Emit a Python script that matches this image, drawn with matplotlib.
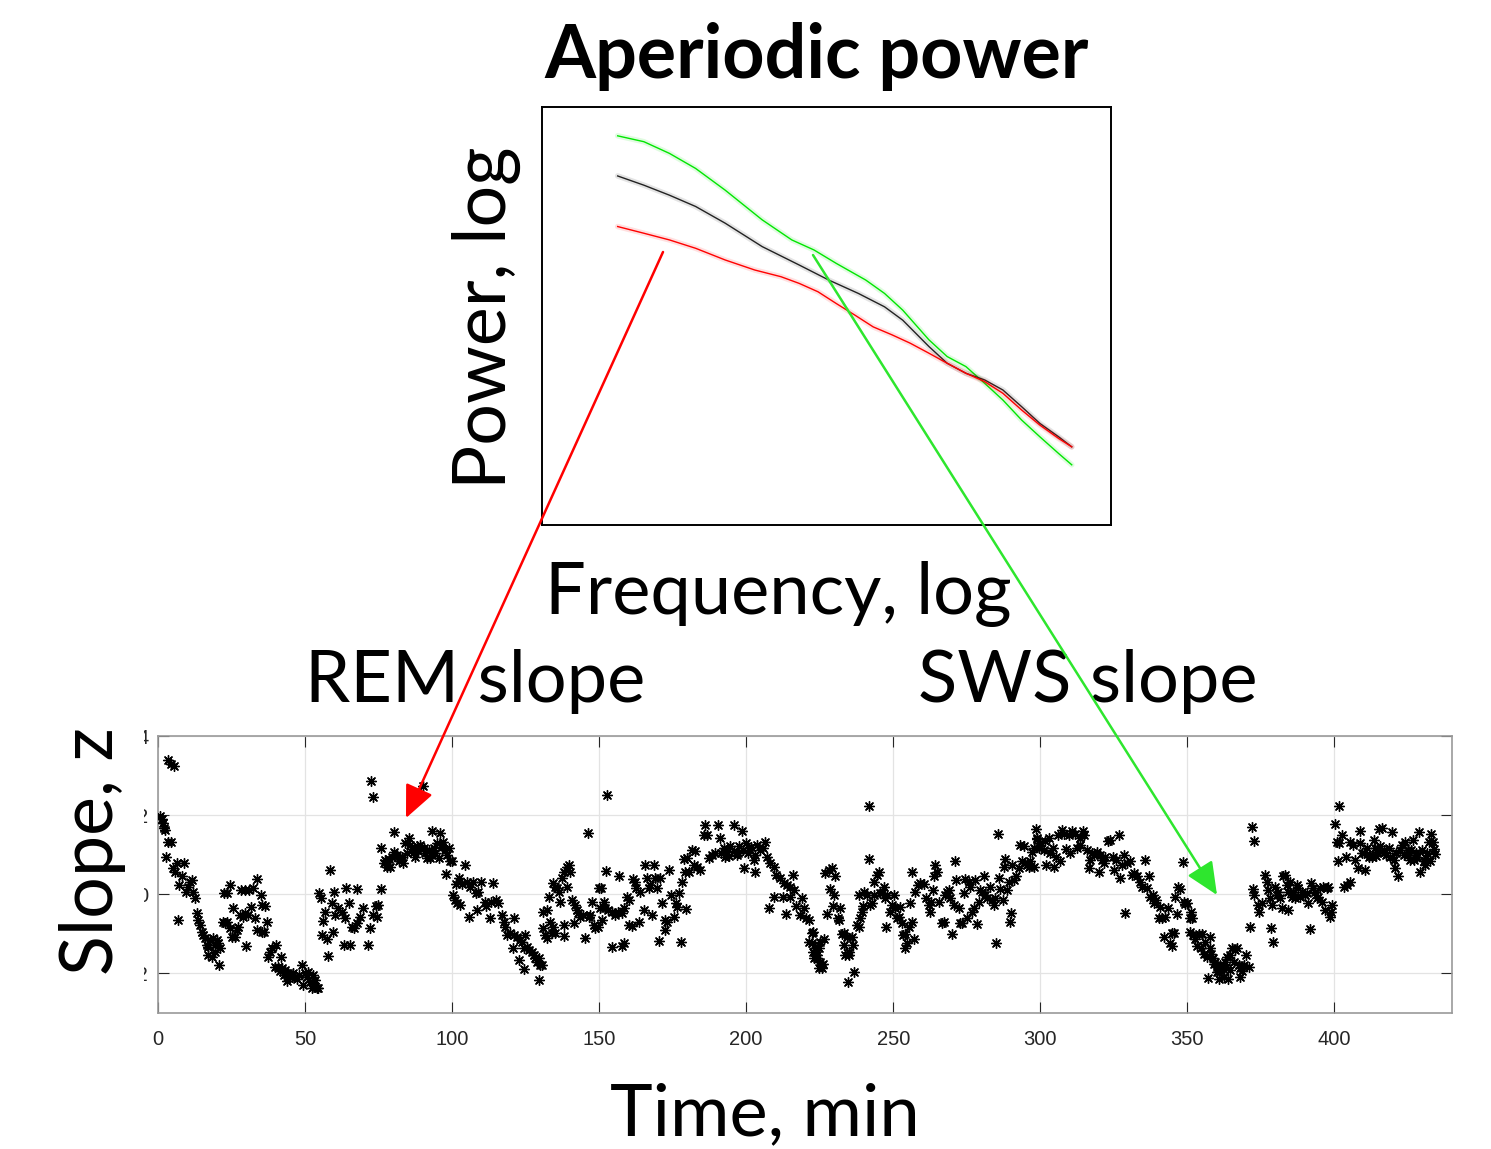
import numpy as np
import matplotlib.pyplot as plt
from matplotlib.patches import Rectangle, FancyArrowPatch

# ---- top panel: aperiodic power spectra (normalised log-freq, log-power) ----
f_sws = [0.133, 0.179, 0.224, 0.270, 0.322, 0.387, 0.439, 0.478, 0.517, 0.569, 0.602, 0.634, 0.680, 0.712,
         0.745, 0.778, 0.810, 0.843, 0.875, 0.908, 0.931]
p_sws = [0.931, 0.917, 0.889, 0.853, 0.801, 0.730, 0.682, 0.658, 0.626, 0.586, 0.554, 0.514, 0.443, 0.403,
         0.379, 0.339, 0.299, 0.251, 0.211, 0.171, 0.144]
f_all = [0.133, 0.179, 0.224, 0.270, 0.322, 0.387, 0.452, 0.504, 0.556, 0.602, 0.634, 0.680, 0.712, 0.745,
         0.778, 0.810, 0.843, 0.875, 0.908, 0.931]
p_all = [0.835, 0.813, 0.789, 0.762, 0.722, 0.666, 0.622, 0.586, 0.554, 0.522, 0.490, 0.427, 0.387, 0.363,
         0.347, 0.323, 0.283, 0.243, 0.211, 0.187]
f_rem = [0.133, 0.179, 0.224, 0.270, 0.322, 0.374, 0.420, 0.452, 0.485, 0.517, 0.550, 0.582, 0.615, 0.647,
         0.680, 0.712, 0.745, 0.778, 0.810, 0.843, 0.875, 0.908, 0.931]
p_rem = [0.714, 0.698, 0.682, 0.662, 0.634, 0.610, 0.594, 0.578, 0.558, 0.530, 0.502, 0.474, 0.455, 0.435,
         0.411, 0.387, 0.363, 0.343, 0.315, 0.275, 0.239, 0.207, 0.187]

# ---- bottom panel: slope (z) over time (min) ----
seg1 = [(0.7, 1.97), (1.2, 1.90), (1.6, 1.80), (2.0, 1.67), (2.4, 1.63), (3.5, 3.40), (4.3, 3.30), (5.4, 3.23),
        (3.5, 1.33), (4.3, 1.33), (2.7, 0.93), (6.3, 0.78), (8.8, 0.78), (5.0, 0.66), (5.8, 0.57), (8.0, 0.45),
        (10.9, 0.32), (11.5, 0.36), (7.3, 0.24), (9.5, 0.07), (10.3, 0.19), (12.0, 0.07), (12.6, -0.10), (6.9, -0.65),
        (13.2, -0.48), (13.7, -0.65), (14.3, -0.78), (14.9, -0.95), (15.4, -1.03), (16.0, -1.11), (16.6, -1.28),
        (17.1, -1.32), (17.7, -1.16), (18.8, -1.11), (19.4, -1.28), (20.0, -1.16), (20.5, -1.24), (21.1, -1.37),
        (17.1, -1.54), (18.3, -1.58), (19.4, -1.45), (20.9, -1.79),
        (22.4, 0.03), (23.6, 0.03), (24.5, 0.24), (25.4, -0.34), (22.0, -0.69), (22.8, -0.73), (23.6, -0.69),
        (24.5, -0.86), (25.0, -1.07), (26.2, -1.07), (27.0, -0.90), (27.3, -0.82),
        (28.1, 0.11), (29.6, 0.11), (31.1, 0.11), (32.4, 0.15), (33.6, 0.39), (35.0, -0.02), (35.3, -0.27),
        (36.4, -0.29), (27.9, -0.52), (29.0, -0.57), (29.6, -0.48), (30.7, -0.52), (31.5, -0.31), (33.0, -0.61),
        (33.8, -0.90), (35.3, -0.96), (36.1, -0.96), (37.0, -0.71), (29.9, -1.30),
        (37.5, -1.58), (38.1, -1.45), (38.7, -1.37), (40.1, -1.27), (41.7, -1.58),
        (39.8, -1.83), (40.9, -1.83), (42.1, -1.87), (43.2, -1.92), (43.8, -2.19), (44.9, -2.08), (46.0, -2.00),
        (47.2, -2.13), (48.9, -1.79), (50.0, -2.00), (51.1, -1.96), (51.7, -2.21), (52.8, -2.04), (53.4, -2.17),
        (54.0, -2.38), (52.3, -2.38), (54.5, -2.38), (49.4, -2.28), (41.5, -1.95), (42.7, -2.05), (44.3, -1.98),
        (45.5, -2.10), (47.8, -2.05), (50.6, -2.10), (53.0, -2.25),
        (54.9, 0.03), (55.3, -0.10), (58.5, 0.62), (59.9, 0.05), (63.9, 0.17), (67.6, 0.14),
        (56.8, -0.44), (56.2, -0.68), (59.1, -0.23), (60.2, -0.52), (61.3, -0.35), (62.5, -0.44), (63.6, -0.59),
        (65.0, -0.23), (65.9, -0.82), (66.7, -0.86), (67.6, -0.73), (68.7, -0.57), (69.8, -0.35), (72.1, -0.86),
        (73.2, -0.52), (74.1, -0.29), (55.7, -1.03), (57.4, -1.13), (59.4, -0.96), (57.9, -1.55), (63.4, -1.27),
        (65.3, -1.27), (71.5, -1.27), (72.3, 2.87), (73.0, 2.45)]

seg2 = [(75.9, 1.16), (75.9, 0.13), (74.9, -0.27), (74.4, -0.57), (80.3, 1.57), (90.0, 2.73),
        (76.7, 0.78), (77.2, 0.87), (78.4, 0.89), (78.9, 0.70), (77.8, 0.70), (79.5, 0.95), (80.3, 1.08),
        (81.2, 1.00), (82.3, 0.91), (83.4, 0.78), (84.0, 1.29), (85.2, 1.42), (85.7, 1.25), (86.9, 1.08),
        (87.4, 0.95), (88.0, 1.21), (89.1, 1.25), (90.3, 1.16), (91.4, 0.91), (92.0, 1.12), (93.1, 1.59),
        (93.7, 1.16), (94.8, 1.29), (95.9, 1.54), (97.0, 1.33), (97.6, 1.12), (98.8, 1.16), (99.3, 0.83),
        (99.9, 0.84), (95.4, 0.91), (92.5, 0.91), (94.2, 1.04), (81.8, 0.85), (83.0, 0.95), (84.6, 1.05),
        (86.2, 1.15), (88.5, 1.10), (90.8, 1.05), (93.0, 1.00), (96.5, 1.20), (98.2, 1.00), (98.0, 0.51),
        (100.4, -0.02), (101.0, -0.14), (101.8, -0.23), (102.7, -0.27), (101.4, 0.25), (102.2, 0.41),
        (103.3, 0.25), (104.4, 0.73), (105.0, 0.32), (106.1, 0.19), (107.2, 0.32), (108.1, 0.03), (108.8, 0.07),
        (109.7, 0.32), (111.2, -0.19), (111.7, -0.29), (113.1, -0.19), (114.0, 0.28), (114.9, -0.14),
        (115.7, -0.23), (105.9, -0.57), (108.4, -0.40), (112.9, -0.59),
        (116.9, -0.52), (117.5, -0.69), (118.0, -0.82), (118.8, -1.03), (119.7, -0.99), (120.9, -1.03),
        (122.0, -1.07), (123.1, -1.16), (123.7, -1.20), (124.8, -1.03), (125.4, -1.32), (126.0, -1.41),
        (127.1, -1.45), (127.7, -1.54), (128.2, -1.60), (128.8, -1.70), (129.4, -1.62), (129.9, -1.79),
        (130.5, -1.79), (124.3, -1.37), (122.6, -1.66), (124.5, -1.89), (120.6, -1.37), (121.1, -0.59),
        (129.7, -2.17),
        (130.8, -0.86), (131.6, -1.03), (132.2, -1.11), (131.0, -0.44), (132.2, -0.40), (133.3, -0.69),
        (134.2, -0.82), (133.9, -0.99), (135.0, -0.99), (132.9, -0.06), (134.2, 0.28), (135.0, 0.19),
        (135.6, 0.15), (136.2, 0.07), (136.7, -0.19), (137.3, 0.41), (137.9, 0.56), (139.0, 0.70), (139.6, 0.74),
        (140.1, 0.57), (139.0, 0.19), (138.1, -0.78), (137.9, -1.05), (140.7, -0.14), (141.8, -0.27),
        (142.4, -0.40), (142.9, -0.48), (143.5, -0.57), (144.6, -0.52), (145.2, -1.11), (146.4, -0.57),
        (146.9, -0.52), (147.5, -0.19), (148.1, -0.78), (148.6, -0.86), (149.5, -0.82), (150.3, -0.35),
        (149.8, 0.15), (146.1, 1.54), (141.5, -0.73)]

seg3 = [(152.8, 2.51), (152.4, 0.59), (156.9, 0.45), (150.6, 0.17), (151.5, -0.19), (150.9, -0.65),
        (152.0, -0.35), (153.1, -0.40), (154.3, -0.44), (155.4, -0.52), (156.5, -0.44), (157.7, -0.48),
        (158.3, -0.35), (159.4, -0.06), (160.3, -0.14), (161.5, 0.39), (162.3, 0.32), (162.6, 0.15), (164.0, 0.07),
        (165.1, -0.40), (165.6, 0.74), (166.2, 0.42), (166.8, 0.15), (167.3, 0.24), (168.5, 0.73), (169.1, 0.42),
        (169.6, 0.15), (170.8, 0.42), (167.9, -0.52), (171.3, -0.23), (172.5, -0.65), (173.2, -0.69),
        (173.9, 0.62), (174.4, -0.02), (175.3, -0.57), (176.2, -0.23), (176.6, -0.31), (177.3, 0.03),
        (178.1, 0.32), (179.2, 0.57), (179.6, -0.37), (160.0, -0.78), (161.1, -0.79), (163.7, -0.69),
        (172.5, -0.90), (154.3, -1.32), (157.7, -1.30), (158.3, -1.24), (170.5, -1.18), (177.8, -1.20),
        (178.7, 0.89), (179.8, 0.91), (180.7, 0.57), (181.5, 1.12), (182.6, 1.10), (182.1, 0.74), (183.2, 0.70),
        (184.4, 0.62), (185.5, 1.50), (186.6, 1.50), (186.1, 1.74), (187.2, 0.91), (188.3, 1.00), (189.5, 1.04),
        (190.4, 1.74), (191.2, 1.42), (192.3, 1.16), (193.4, 1.08), (194.6, 1.21), (195.9, 1.74), (196.8, 1.00),
        (198.5, 1.59), (197.7, 1.21), (199.3, 0.66), (200.0, 1.29), (201.1, 1.16), (202.5, 0.87), (203.1, 0.57),
        (203.6, 1.25), (204.8, 1.12), (205.7, 1.16), (206.5, 1.33), (207.0, 0.95), (208.2, 0.78), (209.3, 0.70),
        (191.5, 1.05), (192.8, 0.95), (194.0, 0.98), (196.0, 1.10), (197.2, 1.05), (198.8, 1.12), (200.5, 1.05),
        (201.8, 1.20), (203.0, 1.00),
        (210.2, 0.49), (211.6, 0.41), (212.7, 0.28), (213.8, 0.24), (215.0, 0.19), (215.9, 0.49), (216.3, 0.11),
        (209.3, -0.08), (212.5, -0.06), (215.0, -0.06), (207.9, -0.34), (213.6, -0.51), (219.0, -0.10),
        (217.0, -0.29), (218.2, -0.52), (219.5, -0.35), (220.4, -0.59), (221.2, -0.65), (222.3, -0.99),
        (221.5, -1.20), (222.7, -1.45), (224.0, -1.54), (224.6, -1.87), (225.2, -1.20)]

seg4 = [(222.7, -0.96), (222.3, -1.24), (223.5, -1.37), (224.6, -1.37), (222.9, -1.60), (224.0, -1.62),
        (225.2, -1.70), (225.7, -1.87), (226.3, -1.13), (226.1, -1.75),
        (226.9, 0.53), (228.0, 0.62), (229.1, 0.66), (230.3, 0.47), (228.6, 0.14), (229.9, -0.03), (229.4, -0.29),
        (232.0, -0.35), (227.4, -0.51), (231.1, -0.59), (231.4, -0.65),
        (232.5, -1.01), (233.1, -0.99), (234.2, -1.07), (235.9, -1.07), (233.1, -1.28), (236.3, -1.27),
        (233.7, -1.54), (235.1, -1.54), (234.8, -1.45), (236.7, -1.96), (234.5, -2.21),
        (237.6, -0.78), (238.2, -0.82), (238.8, -0.61), (239.3, -0.44), (239.7, -0.29), (238.5, -0.03),
        (239.9, 0.07), (241.1, -0.02), (241.6, 2.24), (241.9, 0.89), (242.2, -0.27), (242.8, -0.23),
        (243.3, -0.02), (243.5, 0.32), (244.5, 0.49), (245.0, 0.56), (245.6, 0.03), (246.2, 0.03), (247.0, 0.19),
        (247.3, -0.10), (247.9, -0.02), (247.6, -0.82), (249.0, -0.44), (249.5, -0.27), (250.1, -0.02),
        (250.7, -0.35), (251.2, -0.61), (251.8, -0.57), (252.4, -0.31), (252.9, -0.73),
        (253.3, -1.03), (254.1, -1.01), (254.7, -1.24), (254.1, -1.37), (255.2, -0.82), (256.4, -0.69),
        (257.1, -1.13), (255.6, -0.23), (256.4, 0.56), (257.5, 0.07), (258.3, 0.24), (259.2, 0.28), (260.3, 0.25),
        (261.2, -0.10), (262.0, -0.27), (262.6, -0.44), (262.8, -0.19), (263.5, 0.11), (264.0, 0.45),
        (264.3, 0.74), (264.9, 0.56), (265.4, -0.19), (266.6, -0.73), (267.1, -0.69), (267.7, -0.02),
        (268.3, 0.07), (268.8, 0.11), (269.4, -0.10), (270.0, -1.01), (270.7, -0.27), (271.1, 0.84),
        (271.4, 0.36), (272.2, -0.35), (272.8, -0.73), (273.4, -0.73), (273.9, 0.03), (274.5, 0.39),
        (275.1, -0.61), (275.6, 0.32), (276.2, 0.19), (276.8, -0.44), (277.3, -0.35), (277.9, 0.36),
        (278.5, -0.76), (279.0, -0.19), (279.6, 0.11), (280.2, 0.07), (280.7, 0.47), (281.3, -0.02),
        (281.9, -0.10), (283.0, 0.19), (283.6, -0.14), (284.1, -0.27), (284.7, -0.10), (285.0, -1.24),
        (285.5, 1.52), (285.8, 0.41), (286.4, 0.14), (287.3, -0.14), (287.5, 0.70), (288.1, 0.89), (288.7, 0.11),
        (289.2, 0.32), (289.8, -0.69), (290.0, -0.48), (290.4, 0.74), (291.2, 0.36), (291.8, 0.45), (292.6, 0.66),
        (293.2, 1.25), (293.8, 0.83), (294.3, 1.21), (294.9, 0.78), (295.5, 0.74), (296.0, 0.70), (296.6, 0.83),
        (297.2, 1.08), (297.7, 1.16), (298.6, 1.65), (298.9, 1.42), (299.4, 1.16)]

seg5 = [(297.7, 0.70), (298.9, 1.40), (300.0, 1.29), (301.1, 1.12), (301.7, 1.35), (302.0, 0.73), (302.8, 1.42),
        (303.4, 1.04), (304.3, 1.18), (304.8, 0.70), (305.4, 0.93), (305.9, 1.50), (306.6, 0.83), (307.4, 1.63),
        (307.9, 1.52), (308.8, 1.15), (309.6, 1.50), (310.2, 1.04), (310.8, 1.59), (311.9, 1.52), (312.5, 1.16),
        (313.4, 1.25), (313.6, 1.43), (314.5, 1.60), (315.0, 1.50), (315.9, 1.12), (316.4, 0.66), (317.0, 0.87),
        (317.6, 1.04), (318.1, 1.00), (319.3, 1.08), (319.8, 0.57), (320.4, 1.00), (321.0, 0.87), (321.5, 0.78),
        (322.1, 0.95), (322.9, 1.35), (323.8, 1.38), (324.7, 0.95), (325.2, 0.62), (325.9, 0.87), (326.6, 1.49),
        (327.0, 0.41), (327.8, 0.74), (328.6, 1.00), (329.5, 0.78), (330.4, 0.83), (331.2, 0.49), (332.0, 0.53),
        (332.9, 0.45), (333.8, 0.32), (334.6, 0.19), (335.7, 0.87), (336.3, 0.15), (336.9, 0.45), (337.4, -0.08),
        (338.3, -0.02), (338.8, -0.23), (339.5, -0.14), (340.3, -0.59), (340.8, -0.31), (341.4, -0.61),
        (342.5, -0.57), (343.3, -0.35), (328.9, -0.48), (346.5, -0.51), (345.9, -0.06), (346.7, 0.19),
        (347.6, 0.14), (348.5, 0.81), (348.8, -0.19), (349.3, -0.25), (349.9, -0.23), (350.8, -0.59),
        (351.2, -0.44), (351.6, -0.59), (342.2, -1.07), (344.0, -1.24), (344.8, -0.99), (345.4, -0.99),
        (344.8, -1.30),
        (350.8, -0.95), (351.9, -1.03), (352.7, -1.13), (353.9, -1.01), (355.0, -1.01), (356.1, -1.20),
        (357.6, -1.07), (353.3, -1.30), (354.6, -1.37), (355.6, -1.52), (356.7, -1.58), (357.8, -1.37),
        (358.7, -1.62), (359.5, -1.70), (360.1, -1.83), (361.0, -1.79), (361.8, -1.87), (362.9, -1.72),
        (363.5, -1.58), (364.6, -1.54), (365.2, -1.37), (366.3, -1.41), (366.9, -1.37), (367.5, -1.79),
        (368.0, -1.87), (369.2, -1.79), (370.1, -1.54), (370.9, -1.83), (356.9, -2.11), (360.7, -2.13),
        (362.4, -2.08), (363.7, -2.13), (367.8, -2.08), (360.1, -1.97), (364.6, -1.92), (358.0, -1.50),
        (359.0, -1.75), (361.5, -1.95), (363.0, -1.85), (365.8, -1.70), (368.6, -1.95),
        (371.4, -0.82), (372.3, 0.14), (372.8, -0.02), (373.9, -0.27), (374.3, -0.44), (372.0, 1.71), (372.6, 1.35)]

seg6 = [(375.4, -0.23), (376.5, 0.49), (377.1, 0.32), (377.6, 0.11), (378.2, -0.10), (378.8, -0.27), (379.9, 0.19),
        (380.5, -0.02), (381.0, 0.07), (381.6, -0.10), (382.2, -0.35), (382.7, 0.45), (383.3, 0.49), (383.9, 0.24),
        (384.4, 0.07), (385.0, 0.32), (385.6, -0.06), (386.1, 0.07), (386.7, -0.10), (387.3, 0.24), (387.8, 0.15),
        (388.4, -0.06), (389.0, 0.07), (390.1, -0.02), (390.7, 0.03), (391.2, -0.23), (392.0, 0.28), (392.7, 0.15),
        (393.5, 0.07), (394.1, -0.10), (394.6, -0.06), (395.2, 0.15), (395.8, -0.19), (396.3, 0.19),
        (396.9, -0.40), (397.5, 0.15), (398.0, 0.19), (398.4, -0.57), (398.8, -0.44), (399.2, -0.27),
        (384.4, -0.40), (378.4, -0.84), (379.3, -1.20), (391.8, -0.88),
        (401.7, 2.24), (400.3, 1.77), (400.9, 1.33), (401.7, 1.29), (402.6, 1.50), (401.1, 0.83), (403.4, 0.19),
        (404.3, 0.24), (405.2, 0.32), (404.1, 0.93), (405.4, 1.33), (406.5, 1.25), (407.1, 0.87), (407.9, 0.66),
        (408.8, 1.59), (408.6, 1.29), (409.4, 1.04), (410.5, 0.62), (411.1, 1.16), (412.0, 1.00), (412.8, 0.95),
        (413.4, 1.38), (413.9, 1.16), (414.5, 1.08), (415.1, 1.65), (416.2, 1.67), (415.6, 1.21), (416.8, 1.12),
        (417.7, 1.00), (418.5, 1.16), (419.6, 1.57), (420.2, 0.87), (420.7, 0.66), (421.5, 0.45), (422.2, 1.12),
        (423.0, 1.25), (423.6, 1.00), (424.1, 1.33), (424.9, 1.12), (425.6, 0.87), (426.0, 1.12), (426.7, 1.38),
        (427.2, 0.87), (427.9, 1.04), (428.7, 1.57), (429.2, 0.57), (429.8, 1.12), (430.4, 0.83), (430.9, 0.74),
        (431.5, 1.04), (432.1, 1.32), (432.6, 0.83), (432.9, 1.52), (433.5, 1.33), (434.3, 1.01),
        (410.0, 1.05), (411.8, 0.95), (414.0, 0.98), (417.0, 1.05), (419.0, 0.95), (421.0, 1.05), (425.0, 1.00),
        (428.0, 0.95), (431.0, 0.92), (433.8, 1.15)]

xticks = [0, 50, 100, 150, 200, 250, 300, 350, 400]
yticks = [-2, 0, 2, 4]

W, H = 1491, 1149
fig = plt.figure(figsize=(W / 100, H / 100), dpi=100)
big = ['Lato', 'DejaVu Sans']


def fx(px):
    return px / W


def fy(py):
    return 1 - py / H


# top panel
ax1 = fig.add_axes([fx(542), fy(525), fx(1111) - fx(542), fy(107) - fy(525)])
for xx, yy, c in [(f_sws, p_sws, '#00e600'), (f_all, p_all, '#222222'), (f_rem, p_rem, '#ff0000')]:
    ax1.plot(xx, yy, color=c, lw=4, alpha=0.12, solid_capstyle='round')
    ax1.plot(xx, yy, color=c, lw=1.0)
ax1.set_xlim(0, 1)
ax1.set_ylim(0, 1)
ax1.set_xticks([])
ax1.set_yticks([])
for s in ax1.spines.values():
    s.set_linewidth(1.4)
    s.set_color('black')

# bottom panel
ax2 = fig.add_axes([fx(158), fy(1013), fx(1452) - fx(158), fy(736) - fy(1013)])
pts = np.array(seg1 + seg2 + seg3 + seg4 + seg5 + seg6)
ax2.scatter(pts[:, 0], pts[:, 1], marker=(8, 2, 0), s=50, color='black', linewidths=1.0, zorder=3)
ax2.set_xlim(0, 440)
ax2.set_ylim(-3, 4)
ax2.set_xticks(xticks)
ax2.set_yticks(yticks)
ax2.set_yticklabels([str(v) for v in yticks])
ax2.grid(True, color='#e3e3e3', lw=0.9)
ax2.set_axisbelow(True)
ax2.tick_params(direction='in', length=8, width=0.8, color='#262626', top=True, right=True,
                labelsize=14.5, labelcolor='#262626')
ax2.tick_params(axis='x', pad=12)
ax2.tick_params(axis='y', pad=7)
for lab in ax2.get_xticklabels() + ax2.get_yticklabels():
    lab.set_family(['Liberation Sans', 'DejaVu Sans'])
for s in ax2.spines.values():
    s.set_color('#9a9a9a')
    s.set_linewidth(1.2)

# white strip hides most of the y tick labels, like in the original slide
fig.add_artist(Rectangle((0, fy(1000)), fx(144), fy(720) - fy(1000), transform=fig.transFigure,
                         facecolor='white', edgecolor='none', zorder=5))

# texts
fig.text(fx(817), fy(78), 'Aperiodic power', ha='center', va='baseline', fontsize=53,
         fontweight='bold', family=big, zorder=6)
fig.text(fx(486), fy(318), 'Power, log', ha='center', va='center', rotation=90, fontsize=53,
         family=big, zorder=6)
fig.text(fx(778), fy(594), 'Frequency, log', ha='center', va='center', fontsize=52, family=big, zorder=6)
fig.text(fx(475), fy(682), 'REM slope', ha='center', va='center', fontsize=52, family=big, zorder=6)
fig.text(fx(1088), fy(682), 'SWS slope', ha='center', va='center', fontsize=52, family=big, zorder=6)
fig.text(fx(92), fy(851), 'Slope, z', ha='center', va='center', rotation=90, fontsize=53, family=big, zorder=6)
fig.text(fx(765), fy(1135), 'Time, min', ha='center', va='baseline', fontsize=52, family=big, zorder=6)

# arrows from spectra to the slope trace
for (x0, y0), (x1, y1), c in [((663, 252), (406, 818), '#ff0000'), ((813, 255), (1217, 895), '#2ee62e')]:
    fig.add_artist(FancyArrowPatch((fx(x0), fy(y0)), (fx(x1), fy(y1)), transform=fig.transFigure,
                                   arrowstyle='-|>,head_length=1.0,head_width=0.45', mutation_scale=20,
                                   color=c, lw=1.8, shrinkA=0, shrinkB=0, zorder=10))

fig.savefig('out.png', dpi=100)
